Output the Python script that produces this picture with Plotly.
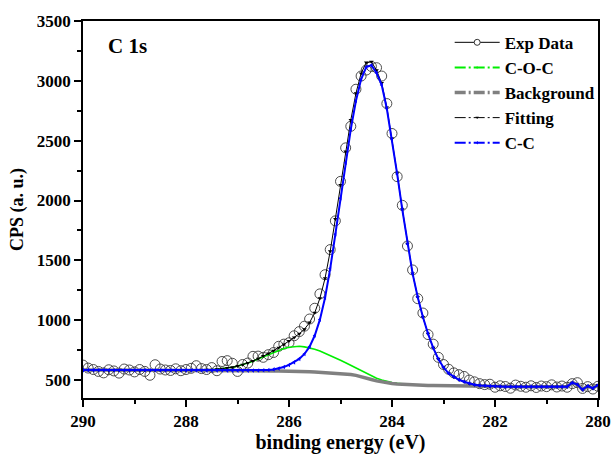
import plotly.graph_objects as go

# ---------------- data ----------------
energy = [290.0, 289.9, 289.8, 289.7, 289.6, 289.5, 289.4, 289.3, 289.2, 289.1,
          289.0, 288.9, 288.8, 288.7, 288.6, 288.5, 288.4, 288.3, 288.2, 288.1,
          288.0, 287.9, 287.8, 287.7, 287.6, 287.5, 287.4, 287.3, 287.2, 287.1,
          287.0, 286.9, 286.8, 286.7, 286.6, 286.5, 286.4, 286.3, 286.2, 286.1,
          286.0, 285.9, 285.8, 285.7, 285.6, 285.5, 285.4, 285.3, 285.2, 285.1,
          285.0, 284.9, 284.8, 284.7, 284.6, 284.5, 284.4, 284.3, 284.2, 284.1,
          284.0, 283.9, 283.8, 283.7, 283.6, 283.5, 283.4, 283.3, 283.2, 283.1,
          283.0, 282.9, 282.8, 282.7, 282.6, 282.5, 282.4, 282.3, 282.2, 282.1,
          282.0, 281.9, 281.8, 281.7, 281.6, 281.5, 281.4, 281.3, 281.2, 281.1,
          281.0, 280.9, 280.8, 280.7, 280.6, 280.5, 280.4, 280.3, 280.2, 280.1,
          280.0]

exp_data = [625, 600, 588, 572, 560, 586, 576, 558, 592, 584,
            568, 588, 572, 540, 628, 592, 584, 580, 594, 578,
            588, 598, 620, 596, 588, 604, 578, 655, 662, 640,
            572, 630, 642, 698, 700, 690, 712, 730, 782, 800,
            812, 870, 905, 950, 1010, 1100, 1220, 1380, 1590, 1830,
            2160, 2440, 2620, 2930, 3040, 3090, 3120, 3110, 3040, 2810,
            2560, 2200, 1960, 1620, 1420, 1180, 1060, 880, 800, 690,
            630, 590, 560, 545, 530, 500, 485, 470, 462, 465,
            440, 452, 446, 432, 458, 448, 440, 452, 438, 450,
            445, 460, 442, 450, 440, 470, 478, 430, 445, 425,
            448]

coc = [583, 583, 583, 583, 583, 582, 582, 582, 582, 582,
       582, 582, 582, 582, 582, 581, 581, 581, 581, 581,
       581, 582, 583, 583, 585, 587, 590, 595, 600, 607,
       617, 628, 642, 658, 675, 695, 713, 732, 749, 764,
       774, 780, 782, 777, 770, 758, 743, 725, 706, 686,
       665, 644, 623, 601, 579, 556, 534, 515, 500, 488,
       479, 472, 467, 463, 460, 457, 456, 455, 454, 453,
       452, 451, 450, 449, 449, 448, 448, 447, 447, 446,
       446, 445, 445, 445, 445, 445, 445, 445, 445, 445,
       445, 445, 445, 445, 445, 478, 462, 420, 450, 432,
       458]

background = [583, 583, 583, 583, 583, 582, 582, 582, 582, 582,
              582, 582, 582, 582, 582, 581, 581, 581, 581, 581,
              581, 581, 581, 580, 580, 580, 580, 580, 579, 579,
              579, 578, 578, 578, 577, 577, 576, 576, 575, 575,
              574, 573, 572, 570, 569, 567, 565, 563, 561, 558,
              555, 551, 546, 539, 530, 518, 505, 493, 484, 477,
              471, 467, 464, 461, 459, 457, 456, 455, 454, 453,
              452, 451, 450, 449, 449, 448, 448, 447, 447, 446,
              446, 445, 445, 445, 445, 445, 445, 445, 445, 445,
              445, 445, 445, 445, 445, 478, 462, 420, 450, 432,
              458]

fitting = [583, 583, 583, 583, 583, 582, 582, 582, 582, 582,
           582, 582, 582, 582, 582, 581, 581, 581, 581, 581,
           581, 582, 583, 583, 585, 587, 590, 595, 600, 607,
           617, 628, 643, 660, 678, 700, 721, 745, 770, 798,
           826, 855, 887, 925, 980, 1063, 1183, 1350, 1576, 1846,
           2130, 2409, 2673, 2896, 3062, 3153, 3159, 3088, 2981, 2778,
           2519, 2227, 1927, 1638, 1390, 1192, 1026, 887, 769, 675,
           605, 556, 526, 502, 486, 472, 461, 455, 452, 449,
           448, 446, 445, 445, 445, 445, 445, 445, 445, 445,
           445, 445, 445, 445, 445, 478, 462, 420, 450, 432,
           458]

cc = [583, 583, 583, 583, 583, 582, 582, 582, 582, 582,
      582, 582, 582, 582, 582, 581, 581, 581, 581, 581,
      581, 581, 581, 580, 580, 580, 580, 580, 579, 579,
      579, 578, 579, 580, 580, 582, 584, 589, 596, 609,
      626, 648, 677, 718, 779, 872, 1005, 1188, 1431, 1718,
      2020, 2316, 2596, 2834, 3013, 3115, 3130, 3066, 2965, 2767,
      2511, 2222, 1924, 1636, 1389, 1192, 1026, 887, 769, 675,
      605, 556, 526, 502, 486, 472, 461, 455, 452, 449,
      448, 446, 445, 445, 445, 445, 445, 445, 445, 445,
      445, 445, 445, 445, 445, 478, 462, 420, 450, 432,
      458]

legend_names = ["Exp Data", "C-O-C", "Background", "Fitting", "C-C"]
x_ticks = [290, 288, 286, 284, 282, 280]
y_ticks = [500, 1000, 1500, 2000, 2500, 3000, 3500]

# ---------------- styling ----------------
FONT = "Liberation Serif"
GREEN = "#00ee00"
GRAY = "#808080"
BLUE = "#0000ff"

fig = go.Figure()

fig.add_trace(go.Scatter(x=energy, y=exp_data, mode="markers",
                         marker=dict(symbol="circle-open", size=10, color="#3a3a3a",
                                     line=dict(width=0.9)),
                         showlegend=False, hoverinfo="skip"))
fig.add_trace(go.Scatter(x=energy, y=coc, mode="lines",
                         line=dict(color=GREEN, width=1.6),
                         showlegend=False, hoverinfo="skip"))
fig.add_trace(go.Scatter(x=energy, y=background, mode="lines",
                         line=dict(color=GRAY, width=3.5),
                         showlegend=False, hoverinfo="skip"))
fig.add_trace(go.Scatter(x=energy, y=fitting, mode="lines+markers",
                         line=dict(color="black", width=1),
                         marker=dict(symbol="triangle-down", size=4, color="black"),
                         showlegend=False, hoverinfo="skip"))
fig.add_trace(go.Scatter(x=energy, y=cc, mode="lines+markers",
                         line=dict(color=BLUE, width=2),
                         marker=dict(symbol="triangle-left", size=4, color=BLUE),
                         showlegend=False, hoverinfo="skip"))

# legend-only proxies (no data points)
proxy_styles = [
    dict(line=dict(color="black", width=1),
         marker=dict(symbol="circle", size=6, color="white", line=dict(color="#333333", width=1))),
    dict(line=dict(color=GREEN, width=2, dash="11px,3px,2px,3px"),
         marker=dict(symbol="circle", size=2, color=GREEN)),
    dict(line=dict(color=GRAY, width=3.5, dash="11px,3px,2px,3px"),
         marker=dict(symbol="triangle-up", size=3, color=GRAY)),
    dict(line=dict(color="black", width=1, dash="11px,3px,2px,3px"),
         marker=dict(symbol="triangle-down", size=3, color="black")),
    dict(line=dict(color=BLUE, width=2, dash="11px,3px,2px,3px"),
         marker=dict(symbol="triangle-left", size=3, color=BLUE)),
]
for name, st in zip(legend_names, proxy_styles):
    fig.add_trace(go.Scatter(x=[None], y=[None], mode="lines+markers", name=name,
                             line=st["line"], marker=st["marker"], showlegend=True))

axis_common = dict(
    showline=True, linecolor="black", linewidth=1.5, mirror=True,
    ticks="outside", ticklen=7, tickwidth=1.5, tickcolor="black",
    showgrid=False, zeroline=False, automargin=False,
    tickfont=dict(family=FONT, size=17, color="black", weight="bold"),
)

fig.update_xaxes(
    range=[290, 280], tickvals=x_ticks,
    minor=dict(dtick=1, ticks="outside", ticklen=4, tickwidth=1.5, tickcolor="black"),
    title=dict(text="binding energy (eV)", standoff=4,
               font=dict(family=FONT, size=20, color="black", weight="bold")),
    **axis_common,
)
fig.update_yaxes(
    range=[350, 3500], tickvals=y_ticks,
    minor=dict(tick0=250, dtick=500, ticks="outside", ticklen=4, tickwidth=1.5, tickcolor="black"),
    title=dict(text="CPS (a. u.)", standoff=9,
               font=dict(family=FONT, size=18, color="black", weight="bold")),
    **axis_common,
)

fig.add_annotation(text="C 1s", xref="paper", yref="paper", x=0.045, y=0.935,
                   xanchor="left", yanchor="middle", showarrow=False,
                   font=dict(family=FONT, size=21, color="black", weight="bold"))

fig.update_layout(
    width=612, height=454,
    margin=dict(l=83, r=12, t=21, b=56),
    paper_bgcolor="white", plot_bgcolor="white",
    legend=dict(x=0.712, y=0.99, xanchor="left", yanchor="top",
                bgcolor="rgba(0,0,0,0)", borderwidth=0,
                font=dict(family=FONT, size=17, color="black", weight="bold"),
                itemwidth=45, tracegroupgap=0),
)

fig.write_html("out.html")
